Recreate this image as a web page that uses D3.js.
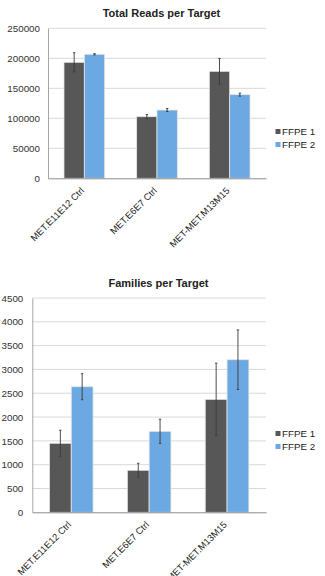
<!DOCTYPE html>
<html><head><meta charset="utf-8">
<script src="https://cdn.jsdelivr.net/npm/d3@7"></script>
<style>body{margin:0;background:#fff}svg{display:block}text{font-family:"Liberation Sans",Arial,sans-serif}</style>
</head><body><svg id="c" width="325" height="576"></svg>
<script>
const categories = ["MET.E11E12 Ctrl", "MET.E6E7 Ctrl", "MET-MET.M13M15"];
const seriesNames = ["FFPE 1", "FFPE 2"];
const colors = ["#575757", "#6ca8e2"];

const readsFFPE1 = [193300, 102700, 178300];
const readsFFPE2 = [206700, 113800, 139400];
const readsErr1 = [16000, 3500, 21500];
const readsErr2 = [1000, 2500, 2500];
const readsTicks = [0, 50000, 100000, 150000, 200000, 250000];

const famFFPE1 = [1449, 882, 2372];
const famFFPE2 = [2637, 1700, 3204];
const famErr1 = [273, 147, 760];
const famErr2 = [273, 255, 626];
const famTicks = [0, 500, 1000, 1500, 2000, 2500, 3000, 3500, 4000, 4500];

const svg = d3.select("#c");

function drawChart(cfg) {
  const g = svg.append("g");
  const x = d3.scaleBand().domain(categories).range([cfg.left, cfg.right]).paddingInner(0.44).paddingOuter(0.22);
  const x1 = d3.scaleBand().domain(seriesNames).range([0, x.bandwidth()]);
  const y = d3.scaleLinear().domain([0, cfg.max]).range([cfg.bottom, cfg.top]);

  // title
  g.append("text").attr("x", cfg.titleX).attr("y", cfg.titleY).attr("text-anchor", "middle")
    .attr("font-size", 11).attr("font-weight", "bold").attr("fill", "#222").text(cfg.title);

  // gridlines
  g.append("g").selectAll("line").data(cfg.ticks.slice(1)).join("line")
    .attr("x1", cfg.left).attr("x2", cfg.right)
    .attr("y1", d => y(d)).attr("y2", d => y(d))
    .attr("stroke", "#d9d9d9").attr("stroke-width", 1);

  // y axis
  const ya = d3.axisLeft(y).tickValues(cfg.ticks).tickSize(0).tickPadding(cfg.tickPad).tickFormat(d3.format("d"));
  const yg = g.append("g").attr("transform", `translate(${cfg.left},0)`).call(ya);
  yg.select(".domain").attr("stroke", "#a6a6a6");
  yg.selectAll("text").attr("font-size", 9.8).attr("fill", "#333").attr("font-family", '"Liberation Sans",Arial,sans-serif');

  // bars
  const series = cfg.values.map((vals, si) => vals.map((v, ci) => ({ s: seriesNames[si], si, c: categories[ci], v, e: cfg.errs[si][ci] })));
  const flat = series.flat();
  g.append("g").selectAll("rect").data(flat).join("rect")
    .attr("x", d => x(d.c) + x1(d.s))
    .attr("y", d => y(d.v))
    .attr("width", x1.bandwidth())
    .attr("height", d => y(0) - y(d.v))
    .attr("fill", d => colors[d.si])
    .attr("stroke", "#e6e6e6").attr("stroke-width", 0.8);

  // error bars
  const eg = g.append("g").attr("stroke", "#3a3a3a").attr("stroke-width", 0.9);
  flat.forEach(d => {
    const cx = x(d.c) + x1(d.s) + x1.bandwidth() / 2;
    eg.append("line").attr("x1", cx).attr("x2", cx).attr("y1", y(d.v + d.e)).attr("y2", y(d.v - d.e));
    [d.v + d.e, d.v - d.e].forEach(t => eg.append("line").attr("x1", cx - 1.2).attr("x2", cx + 1.2).attr("y1", y(t)).attr("y2", y(t)));
  });

  // x axis
  const xa = d3.axisBottom(x).tickSize(0).tickFormat("");
  const xg = g.append("g").attr("transform", `translate(0,${cfg.bottom})`).call(xa);
  xg.select(".domain").attr("stroke", "#8c8c8c");
  xg.selectAll(".tick").append("text")
    .attr("transform", "translate(0.5,13) rotate(-45)")
    .attr("text-anchor", "end").attr("fill", "#222").attr("font-size", 9.4)
    .attr("font-family", '"Liberation Sans",Arial,sans-serif')
    .text(d => d);

  // legend
  const lg = g.append("g");
  seriesNames.forEach((s, i) => {
    const ly = cfg.legY + i * 13;
    lg.append("rect").attr("x", 275.5).attr("y", ly - 2.5).attr("width", 5).attr("height", 5).attr("fill", colors[i]);
    lg.append("text").attr("x", 282).attr("y", ly).attr("dy", "0.35em").attr("font-size", 9.8).attr("fill", "#222").text(s);
  });
}

drawChart({ title: "Total Reads per Target", titleX: 161.5, titleY: 17, left: 48, right: 266, top: 28.3, bottom: 178.3, max: 250000,
  ticks: readsTicks, tickPad: 8, values: [readsFFPE1, readsFFPE2], errs: [readsErr1, readsErr2], legY: 131.5 });
drawChart({ title: "Families per Target", titleX: 158.5, titleY: 287, left: 32.3, right: 266, top: 298, bottom: 512.3, max: 4500,
  ticks: famTicks, tickPad: 9, values: [famFFPE1, famFFPE2], errs: [famErr1, famErr2], legY: 433.5 });
</script></body></html>
